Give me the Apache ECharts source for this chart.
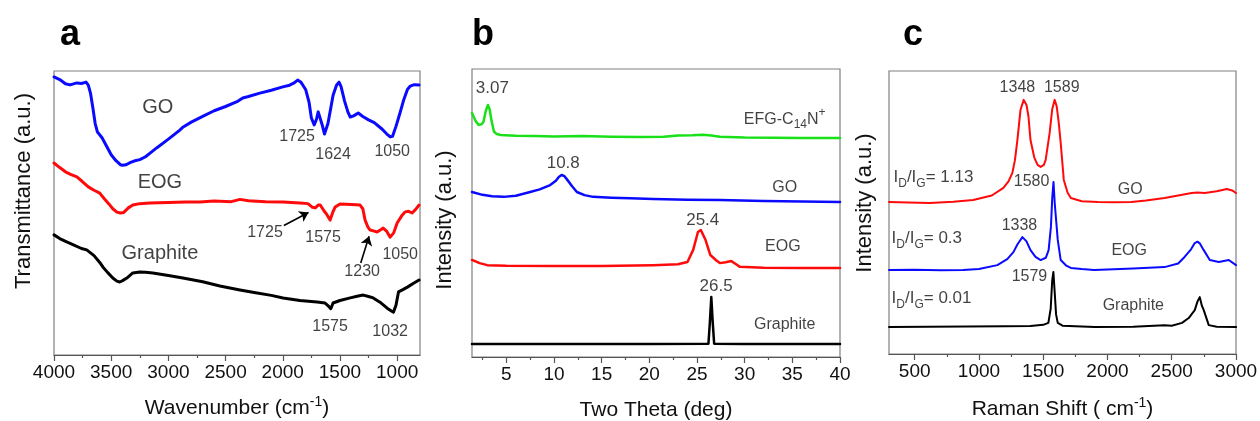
<!DOCTYPE html>
<html>
<head>
<meta charset="utf-8">
<script src="https://cdn.jsdelivr.net/npm/echarts@6/dist/echarts.min.js"></script>
<style>
  html, body { margin: 0; padding: 0; background: #ffffff; }
  #chart { width: 1260px; height: 421px; }
</style>
</head>
<body>
<div id="chart"></div>
<script>
// ---------- (a) FTIR: transmittance (a.u., offset traces) vs wavenumber ----------
const ftirGO = [
  [4000, 97.9], [3950, 97.0], [3900, 95.5], [3860, 95.1], [3800, 95.8], [3760, 95.6], [3720, 96.1],
  [3700, 95.0], [3680, 92.0], [3660, 87.0], [3640, 81.5], [3620, 78.5], [3580, 76.5], [3540, 73.5],
  [3500, 70.5], [3460, 68.5], [3420, 67.0], [3400, 66.8], [3370, 67.0], [3330, 67.8], [3300, 68.3],
  [3250, 68.8], [3200, 69.8], [3160, 71.1], [3100, 73.0], [3000, 76.0], [2950, 77.6], [2900, 79.2],
  [2870, 80.3], [2800, 82.0], [2700, 84.0], [2600, 86.0], [2500, 87.5], [2400, 89.2], [2350, 90.5],
  [2300, 91.0], [2200, 92.2], [2100, 93.2], [2000, 94.4], [1940, 95.0], [1900, 95.8], [1870, 96.8],
  [1840, 96.0], [1800, 93.5], [1770, 89.0], [1750, 83.5], [1725, 81.0], [1705, 83.0], [1690, 85.6],
  [1675, 85.0], [1655, 81.0], [1635, 77.8], [1624, 77.5], [1605, 81.5], [1580, 87.0], [1560, 91.5],
  [1530, 95.0], [1508, 96.1], [1490, 94.5], [1460, 89.5], [1430, 85.5], [1410, 83.8], [1380, 84.2],
  [1340, 85.2], [1300, 84.0], [1250, 82.8], [1200, 81.8], [1175, 81.0], [1130, 79.5], [1090, 77.8],
  [1060, 76.8], [1040, 77.0], [1010, 80.5], [975, 85.2], [945, 89.5], [910, 93.5], [885, 94.7],
  [850, 95.2], [808, 95.1]
];
const ftirEOG = [
  [4000, 67.6], [3950, 66.0], [3900, 64.5], [3850, 63.5], [3800, 62.7], [3750, 61.0], [3700, 59.2],
  [3650, 58.0], [3600, 57.0], [3560, 55.0], [3520, 53.2], [3486, 51.5], [3450, 50.3], [3420, 50.0],
  [3390, 50.2], [3350, 51.8], [3311, 52.8], [3250, 53.3], [3162, 53.5], [3000, 53.7], [2850, 53.9],
  [2724, 53.9], [2600, 54.2], [2450, 54.0], [2374, 54.8], [2300, 54.3], [2150, 54.0], [1997, 53.9],
  [1850, 53.5], [1780, 53.3], [1740, 52.0], [1716, 51.8], [1690, 52.8], [1672, 52.8], [1640, 50.8],
  [1615, 49.5], [1586, 47.5], [1560, 50.5], [1542, 52.1], [1499, 53.2], [1400, 53.0], [1324, 52.8],
  [1300, 51.5], [1280, 47.5], [1255, 45.0], [1236, 44.0], [1200, 43.6], [1175, 43.3], [1140, 44.2],
  [1122, 44.7], [1090, 43.5], [1061, 41.5], [1030, 43.0], [1000, 46.5], [960, 49.0], [930, 50.4],
  [900, 50.6], [869, 50.0], [840, 51.2], [808, 52.8]
];
const ftirGraphite = [
  [4000, 42.3], [3950, 41.0], [3889, 39.8], [3820, 38.6], [3760, 37.5], [3714, 37.0], [3650, 35.0],
  [3600, 32.6], [3573, 31.0], [3530, 29.0], [3486, 27.1], [3450, 26.0], [3425, 25.7], [3400, 26.2],
  [3363, 27.1], [3311, 28.9], [3250, 29.2], [3200, 29.1], [3136, 28.9], [3000, 28.0], [2873, 27.1],
  [2700, 25.8], [2550, 24.3], [2374, 22.9], [2250, 22.0], [2100, 21.0], [1997, 20.1], [1850, 19.2],
  [1700, 18.7], [1630, 18.3], [1600, 17.2], [1580, 16.3], [1560, 18.3], [1500, 19.2], [1410, 20.1],
  [1340, 20.8], [1296, 21.1], [1250, 20.6], [1209, 20.1], [1150, 18.6], [1087, 16.5], [1050, 15.5],
  [1032, 15.1], [1010, 17.5], [988, 22.2], [950, 23.0], [910, 23.9], [860, 25.2], [808, 26.4]
];
const ftirMajorTicks = [1000, 1500, 2000, 2500, 3000, 3500, 4000];
const ftirMinorTicks = [1250, 1750, 2250, 2750, 3250, 3750];

// ---------- (b) XRD: intensity vs two theta ----------
const xrdEFG = [
  [1.4, 84.7], [1.8, 81.8], [2.1, 80.6], [2.4, 80.8], [2.6, 81.6], [2.85, 85.5], [3.07, 87.5],
  [3.25, 86.0], [3.45, 82.0], [3.7, 78.3], [4.0, 77.4], [4.4, 77.1], [6, 76.8], [8, 76.7], [10, 76.6],
  [13, 76.7], [16, 76.5], [19, 76.4], [21.5, 76.5], [23, 76.9], [24.5, 77.0], [25.6, 77.2],
  [26.5, 76.9], [27.4, 76.5], [30, 76.2], [33, 76.1], [36, 76.0], [40, 76.0]
];
const xrdGO = [
  [1.4, 57.3], [2.5, 56.3], [3.5, 55.8], [4.7, 55.6], [6, 56.0], [7.5, 57.3], [8.5, 58.2], [9.6, 59.7],
  [10.2, 61.2], [10.5, 62.5], [10.8, 63.2], [11.1, 62.8], [11.4, 61.5], [11.9, 59.3], [12.4, 57.3],
  [13.2, 56.2], [14.1, 55.6], [16, 55.3], [18, 55.1], [20.4, 54.9], [24, 54.6], [27.4, 54.5],
  [32, 54.2], [36, 54.0], [40, 53.8]
];
const xrdEOG = [
  [1.4, 33.7], [2.2, 32.6], [3.0, 31.9], [5, 31.7], [9.9, 31.6], [15, 31.6], [20.4, 31.9], [23, 32.2],
  [24.0, 33.0], [24.6, 37.2], [25.1, 43.4], [25.4, 44.1], [25.9, 40.6], [26.4, 35.4], [27.0, 33.6],
  [27.4, 32.6], [28.0, 32.9], [28.6, 33.3], [29.1, 32.2], [29.5, 31.3], [32, 31.0], [36, 30.9], [40, 30.9]
];
const xrdGraphite = [
  [1.4, 4.5], [10, 4.5], [20, 4.5], [26.2, 4.6], [26.35, 12.0], [26.5, 20.8], [26.65, 12.0],
  [26.8, 4.6], [30, 4.5], [40, 4.5]
];
const xrdMajorTicks = [5, 10, 15, 20, 25, 30, 35, 40];
const xrdMinorTicks = [2.5, 7.5, 12.5, 17.5, 22.5, 27.5, 32.5, 37.5];

// ---------- (c) Raman: intensity vs Raman shift ----------
const ramanGO = [
  [300, 53.7], [450, 53.5], [618, 53.4], [800, 53.8], [955, 54.4], [1100, 56.0], [1190, 58.7],
  [1230, 61.0], [1260, 64.0], [1280, 68.5], [1299, 75.6], [1323, 86.2], [1348, 89.8], [1370, 88.0],
  [1385, 84.0], [1401, 75.6], [1430, 69.5], [1456, 66.8], [1480, 66.1], [1505, 66.8], [1519, 68.6],
  [1550, 78.1], [1570, 86.5], [1589, 89.8], [1605, 87.5], [1620, 82.0], [1636, 74.6], [1660, 61.5],
  [1690, 57.0], [1715, 55.1], [1800, 54.0], [1926, 53.7], [2050, 53.6], [2185, 53.7], [2300, 54.2],
  [2444, 55.1], [2550, 56.0], [2655, 56.9], [2700, 57.1], [2757, 56.9], [2850, 57.5], [2929, 58.3],
  [2970, 57.8], [3000, 56.9]
];
const ramanEOG = [
  [300, 29.7], [500, 29.8], [700, 29.6], [876, 29.7], [1000, 30.0], [1143, 31.4], [1220, 33.5],
  [1268, 36.0], [1300, 38.8], [1338, 41.3], [1370, 39.8], [1401, 36.7], [1440, 34.3], [1480, 33.2],
  [1520, 34.0], [1542, 36.7], [1560, 45.0], [1570, 55.0], [1580, 60.8], [1590, 53.0], [1613, 40.3],
  [1636, 33.2], [1680, 31.2], [1715, 30.4], [1800, 30.0], [1895, 29.7], [2000, 29.9], [2200, 30.2],
  [2444, 30.7], [2550, 32.0], [2600, 34.3], [2650, 37.0], [2679, 39.2], [2700, 39.7], [2720, 39.0],
  [2749, 36.7], [2796, 33.2], [2866, 32.5], [2944, 33.2], [3000, 31.4]
];
const ramanGraphite = [
  [300, 9.5], [600, 9.6], [900, 9.7], [1200, 9.8], [1400, 9.9], [1500, 10.3], [1540, 11.0],
  [1558, 16.0], [1570, 26.0], [1579, 29.0], [1589, 22.0], [1600, 14.0], [1613, 11.0], [1650, 10.0],
  [1900, 9.5], [2200, 9.6], [2444, 10.2], [2500, 10.0], [2580, 11.0], [2632, 12.7], [2679, 15.5],
  [2700, 18.5], [2718, 20.1], [2735, 17.0], [2749, 15.5], [2788, 10.2], [2850, 9.6], [3000, 9.5]
];
const ramanMajorTicks = [500, 1000, 1500, 2000, 2500, 3000];
const ramanMinorTicks = [750, 1250, 1750, 2250, 2750];

// ---------- text annotations: [x, y, text] in data units ----------
const ftirNotes = [
  [3092, 87.0, 'GO'], [3074, 60.6, 'EOG'], [3074, 35.9, 'Graphite']
];
const ftirPeakNotes = [
  [1875, 76.8, '1725'], [1560, 70.4, '1624'], [1043, 71.5, '1050'],
  [2155, 43.0, '1725'], [1647, 41.2, '1575'], [1306, 29.2, '1230'], [973, 35.2, '1050'],
  [1586, 9.9, '1575'], [1061, 8.1, '1032']
];
const ftirArrows = [
  [[1990, 45.6], [1775, 50.2]],
  [[1318, 32.4], [1245, 41.8]]
];
const xrdPeakNotes = [
  [3.53, 93.4, '3.07'], [10.97, 67.4, '10.8'], [25.6, 47.6, '25.4'], [27.0, 24.7, '26.5']
];
const xrdNotes = [
  [34.2, 82.6, 'EFG-C{sub|14}N{sup|+}'], [34.2, 58.7, 'GO'], [34.0, 38.2, 'EOG'], [34.2, 11.1, 'Graphite']
];
const ramanPeakNotes = [
  [1299, 94.0, '1348'], [1644, 94.3, '1589'], [1409, 60.8, '1580'], [1315, 45.2, '1338'], [1393, 27.2, '1579']
];
const ramanNotes = [
  [2177, 58.0, 'GO'], [2169, 36.7, 'EOG'], [2201, 17.0, 'Graphite']
];
const ramanRatioNotes = [
  [335, 62.5, 'I{sub|D}/I{sub|G}= 1.13'], [320, 41.0, 'I{sub|D}/I{sub|G}= 0.3'], [320, 19.8, 'I{sub|D}/I{sub|G}= 0.01']
];

const FONT = '"Liberation Sans", Arial, Helvetica, sans-serif';
const INK = '#111111';
const AXIS_COLOR = '#555555';

// Wrap plain runs as {base|...}, keep {sub|..}/{sup|..} runs as they are.
function toRich(text) {
  const re = /\{(sub|sup)\|([^}]*)\}/g;
  let out = '', last = 0, m;
  while ((m = re.exec(text)) !== null) {
    if (m.index > last) out += '{base|' + text.slice(last, m.index) + '}';
    out += '{' + m[1] + '|' + m[2] + '}';
    last = re.lastIndex;
  }
  if (last < text.length) out += '{base|' + text.slice(last) + '}';
  return out;
}

function richStyles(size) {
  const small = Math.round(size * 0.72);
  return {
    base: { fontSize: size, fontFamily: FONT, color: INK, lineHeight: size + 8 },
    sub: { fontSize: small, fontFamily: FONT, color: INK, verticalAlign: 'bottom', lineHeight: small },
    sup: { fontSize: small, fontFamily: FONT, color: INK, verticalAlign: 'top', lineHeight: small }
  };
}

function xAxesFor(gridIndex, min, max, inverse, majors, minors, name, nameGap) {
  return [
    {
      type: 'value', gridIndex, min, max, inverse, position: 'bottom',
      axisLine: { show: true, onZero: false, lineStyle: { color: AXIS_COLOR, width: 1.2 } },
      axisTick: { show: true, inside: false, length: 6, customValues: majors, lineStyle: { color: AXIS_COLOR, width: 1.2 } },
      axisLabel: { show: true, customValues: majors, margin: 8, fontSize: 19, fontFamily: FONT, color: INK,
        formatter: v => String(v) },
      splitLine: { show: false },
      name: toRich(name), nameLocation: 'middle', nameGap,
      nameTextStyle: { fontSize: 21, fontFamily: FONT, color: INK, rich: {
        base: { fontSize: 21, fontFamily: FONT, color: INK, lineHeight: 26 },
        sup: { fontSize: 14, fontFamily: FONT, color: INK, verticalAlign: 'top', lineHeight: 14 }
      } }
    },
    {
      type: 'value', gridIndex, min, max, inverse, position: 'bottom',
      axisLine: { show: false, onZero: false },
      axisTick: { show: true, inside: false, length: 3, customValues: minors, lineStyle: { color: AXIS_COLOR, width: 1.2 } },
      axisLabel: { show: false },
      splitLine: { show: false }
    }
  ];
}

function yAxisFor(gridIndex) {
  return { type: 'value', gridIndex, min: 0, max: 100, show: false };
}

function curve(name, data, color, width, xi, yi) {
  return {
    name, type: 'line', data, xAxisIndex: xi, yAxisIndex: yi,
    showSymbol: false, symbol: 'none', smooth: false, silent: true,
    lineStyle: { color, width, join: 'round', cap: 'round' }, z: 3
  };
}

function notes(list, size, xi, yi, position) {
  return {
    type: 'scatter', xAxisIndex: xi, yAxisIndex: yi, symbolSize: 0, silent: true, z: 5,
    data: list.map(n => ({ value: [n[0], n[1]], text: n[2] })),
    label: {
      show: true, position: position || 'inside', distance: 0, color: INK,
      formatter: p => toRich(p.data.text),
      rich: richStyles(size)
    }
  };
}

// three fixed panels; outer-bounds fitting is switched off so the boxes keep their size
const grids = [
  { left: 54, top: 71, width: 366, height: 284 },
  { left: 472, top: 69, width: 368, height: 288 },
  { left: 889, top: 71, width: 347, height: 283 }
].map(g => Object.assign(g, {
  show: true, borderColor: '#808080', borderWidth: 1.2, backgroundColor: 'transparent',
  containLabel: false, outerBoundsMode: 'none'
}));

const option = {
  backgroundColor: '#ffffff',
  animation: false,
  grid: grids,
  xAxis: [].concat(
    xAxesFor(0, 800, 4000, true, ftirMajorTicks, ftirMinorTicks, 'Wavenumber (cm{sup|-1})', 40),
    xAxesFor(1, 1.4, 40, false, xrdMajorTicks, xrdMinorTicks, 'Two Theta (deg)', 40),
    xAxesFor(2, 300, 3000, false, ramanMajorTicks, ramanMinorTicks, 'Raman Shift ( cm{sup|-1})', 42)
  ),
  yAxis: [yAxisFor(0), yAxisFor(1), yAxisFor(2)],
  series: [
    curve('GO', ftirGO, '#0a0aff', 3, 0, 0),
    curve('EOG', ftirEOG, '#ff0a0a', 3, 0, 0),
    curve('Graphite', ftirGraphite, '#000000', 3, 0, 0),
    notes(ftirNotes, 20, 0, 0),
    notes(ftirPeakNotes, 16, 0, 0),
    {
      type: 'lines', coordinateSystem: 'cartesian2d', xAxisIndex: 0, yAxisIndex: 0, silent: true, z: 6,
      symbol: ['none', 'arrow'], symbolSize: 9,
      lineStyle: { color: '#000000', width: 1.6, opacity: 1 },
      data: ftirArrows.map(a => ({ coords: a }))
    },

    curve('EFG-C14N+', xrdEFG, '#19e019', 2.5, 2, 1),
    curve('GO', xrdGO, '#0a0aff', 2.5, 2, 1),
    curve('EOG', xrdEOG, '#ff0a0a', 2.5, 2, 1),
    curve('Graphite', xrdGraphite, '#000000', 2.5, 2, 1),
    notes(xrdPeakNotes, 17, 2, 1),
    notes(xrdNotes, 16, 2, 1),

    curve('GO', ramanGO, '#ff0a0a', 2, 4, 2),
    curve('EOG', ramanEOG, '#0a0aff', 2, 4, 2),
    curve('Graphite', ramanGraphite, '#000000', 2, 4, 2),
    notes(ramanPeakNotes, 16, 4, 2),
    notes(ramanNotes, 16, 4, 2),
    notes(ramanRatioNotes, 17, 4, 2, 'right')
  ],
  graphic: [
    { type: 'text', x: 70, y: 35, style: { text: 'a', font: 'bold 36px ' + FONT, fill: '#000', textAlign: 'center', textVerticalAlign: 'middle' } },
    { type: 'text', x: 483, y: 35, style: { text: 'b', font: 'bold 36px ' + FONT, fill: '#000', textAlign: 'center', textVerticalAlign: 'middle' } },
    { type: 'text', x: 913, y: 35, style: { text: 'c', font: 'bold 36px ' + FONT, fill: '#000', textAlign: 'center', textVerticalAlign: 'middle' } },
    { type: 'text', x: 24, y: 191, rotation: Math.PI / 2, style: { text: 'Transmittance (a.u.)', font: '22px ' + FONT, fill: INK, textAlign: 'center', textVerticalAlign: 'middle' } },
    { type: 'text', x: 445, y: 220, rotation: Math.PI / 2, style: { text: 'Intensity (a.u.)', font: '22px ' + FONT, fill: INK, textAlign: 'center', textVerticalAlign: 'middle' } },
    { type: 'text', x: 865, y: 203, rotation: Math.PI / 2, style: { text: 'Intensity (a.u.)', font: '22px ' + FONT, fill: INK, textAlign: 'center', textVerticalAlign: 'middle' } }
  ]
};

const chart = echarts.init(document.getElementById('chart'), null, { renderer: 'canvas' });
chart.setOption(option);
</script>
</body>
</html>
